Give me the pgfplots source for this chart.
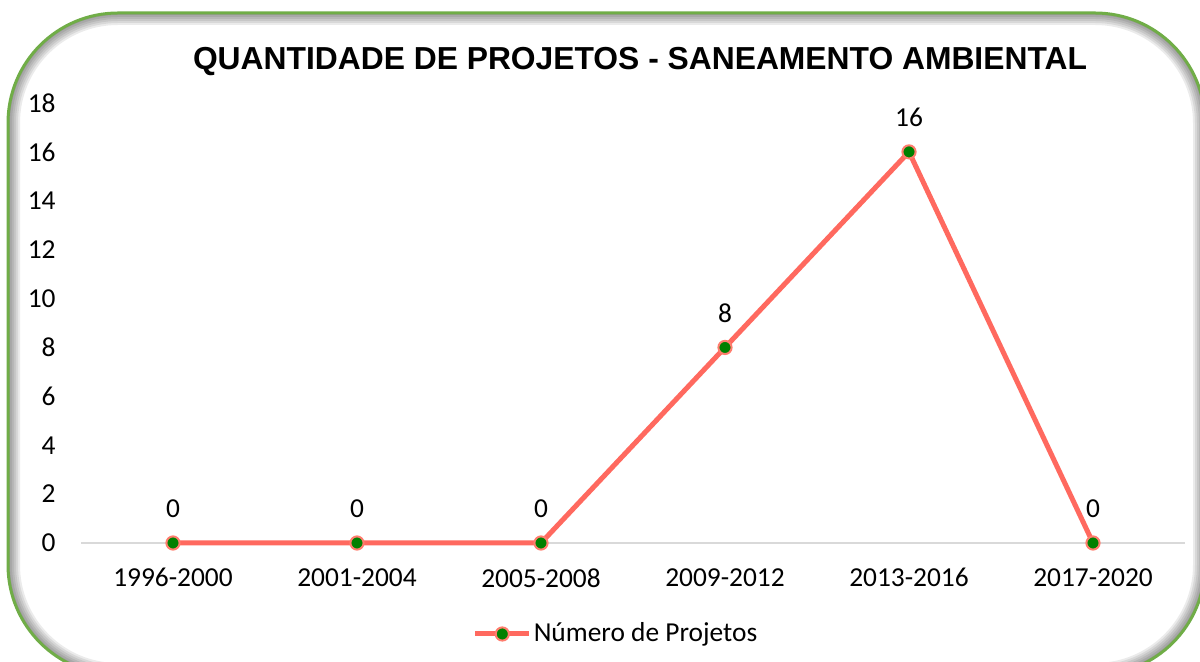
\documentclass[border=0pt]{standalone}
\usepackage{fontspec}
\setmainfont{Carlito}
\newfontfamily\titlefont{Liberation Sans}
\usepackage{pgfplots}
\pgfplotsset{compat=1.18}
\definecolor{framegreen}{RGB}{112,173,71}
\definecolor{salmon}{RGB}{255,105,95}
\definecolor{salmonlight}{RGB}{255,125,110}
\definecolor{mkgreen}{RGB}{0,128,0}
\definecolor{axgray}{RGB}{217,217,217}
\newcommand{\lblfont}{\fontsize{13.7}{16}\selectfont}
\begin{document}
\begin{tikzpicture}
\useasboundingbox (0,0) rectangle (600pt,331pt);
\clip (0,0) rectangle (600pt,331pt);
\fill[white] (0,0) rectangle (600pt,331pt);
\begin{scope}
\clip[rounded corners=55pt] (4pt,-6.5pt) rectangle (602.5pt,324.5pt);
\foreach \w in {12,10,8,6,4,2}
  \draw[black, opacity=0.08, line width=\w pt, rounded corners=55pt] (4pt,-6.5pt) rectangle (602.5pt,324.5pt);
\end{scope}
\draw[framegreen, line width=1.5pt, rounded corners=55pt] (4pt,-6.5pt) rectangle (602.5pt,324.5pt);
\node[font=\titlefont\bfseries\fontsize{15.9}{19}\selectfont, anchor=center] at (320pt,300pt) {QUANTIDADE DE PROJETOS - SANEAMENTO AMBIENTAL};
\begin{axis}[
  at={(40.5pt,59.5pt)}, anchor=south west,
  scale only axis, width=552pt, height=220pt,
  xmin=-0.5, xmax=5.5, ymin=0, ymax=18,
  ytick={0,2,...,18},
  xtick={0,1,2,3,4,5},
  xticklabels={1996-2000,2001-2004,2005-2008,2009-2012,2013-2016,2017-2020},
  axis x line=bottom, axis y line=left,
  axis line style={-},
  x axis line style={draw=axgray, line width=1pt},
  y axis line style={draw=none},
  major tick length=0pt,
  tick style={draw=none},
  /pgf/number format/assume math mode=true,
  tick label style={font=\lblfont, text=black},
  yticklabel style={anchor=east, inner sep=0pt, xshift=-12.5pt},
  xticklabel style={anchor=north, inner sep=0pt, yshift=-12.5pt},
  clip=false,
  nodes near coords,
  nodes near coords style={font=\lblfont, anchor=south, inner sep=0pt, yshift=12pt, text=black},
  legend style={at={(0.4846,-0.2068)}, anchor=center, draw=none, fill=none, font=\lblfont,
    nodes={inner xsep=1pt, inner ysep=0pt}},
  legend image code/.code={\draw[mark repeat=2, mark phase=2] plot coordinates {(0pt,0pt) (13.5pt,0pt) (27pt,0pt)};},
]
\addplot[salmon, line width=2.5pt, mark=*, mark size=3.3pt,
  mark options={fill=mkgreen, draw=salmonlight, line width=1pt}]
  coordinates {(0,0) (1,0) (2,0) (3,8) (4,16) (5,0)};
\addlegendentry{Número de Projetos}
\end{axis}
\end{tikzpicture}
\end{document}
